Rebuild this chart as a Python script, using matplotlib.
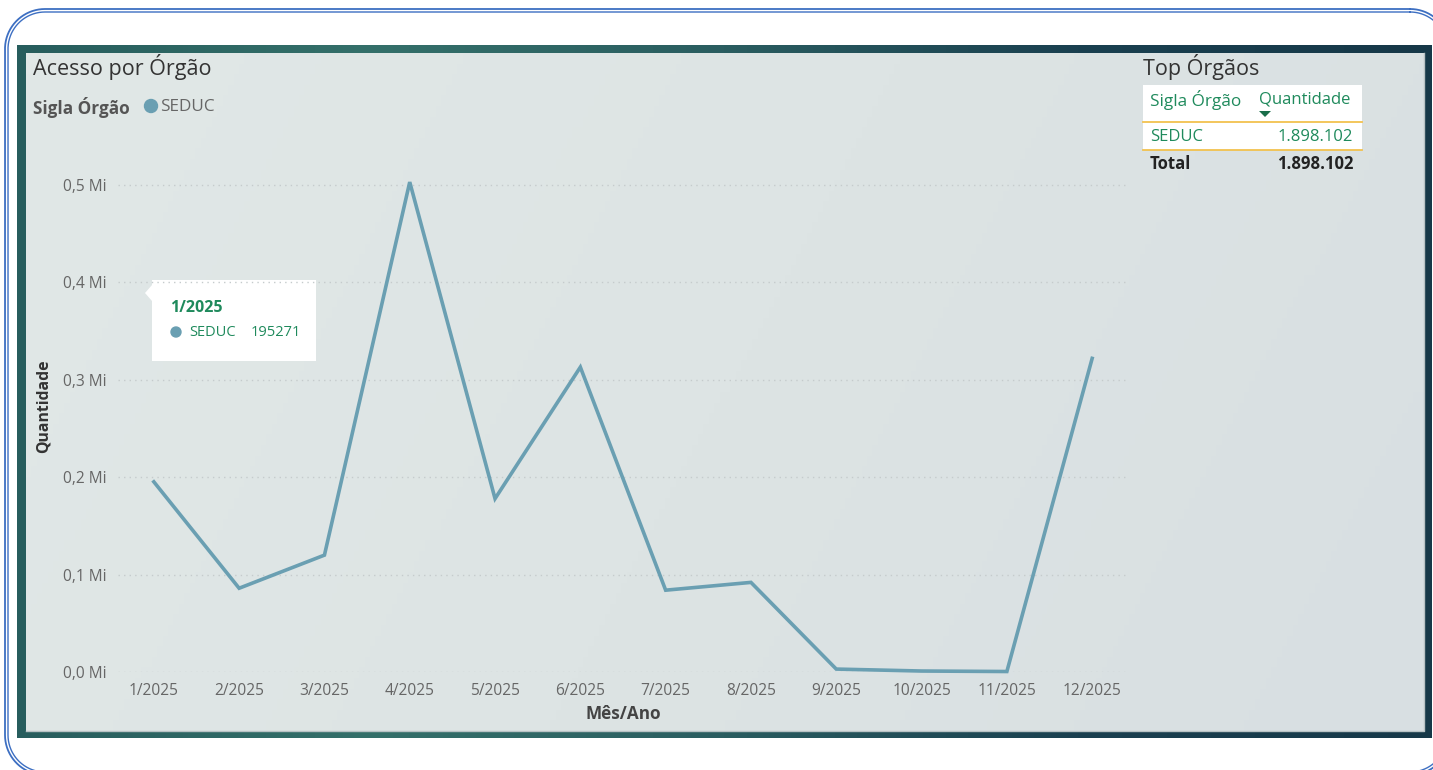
import numpy as np
import matplotlib
matplotlib.use("Agg")
import matplotlib.pyplot as plt
from matplotlib.patches import Rectangle, Polygon, Circle
from matplotlib.colors import LinearSegmentedColormap

# ---------------- data ----------------
months = ["1/2025", "2/2025", "3/2025", "4/2025", "5/2025", "6/2025",
          "7/2025", "8/2025", "9/2025", "10/2025", "11/2025", "12/2025"]
seduc = [195271, 86000, 120000, 503000, 178000, 313000,
         84000, 92000, 3000, 1000, 500, 322000]
yticks = [0, 100000, 200000, 300000, 400000, 500000]
ytick_labels = ["0,0 Mi", "0,1 Mi", "0,2 Mi", "0,3 Mi", "0,4 Mi", "0,5 Mi"]
table_org = ["SEDUC"]
table_qty = ["1.898.102"]
table_total = "1.898.102"

W, H = 1433, 770
FONT = "Open Sans"
LINE_C = "#6a9fb2"
GREEN = "#1f8a5c"

fig = plt.figure(figsize=(W / 100, H / 100), dpi=100)
fig.patch.set_facecolor("white")

# background axes in pixel coordinates
bg = fig.add_axes([0, 0, 1, 1])
bg.set_autoscale_on(False)
bg.set_xlim(0, W)
bg.set_ylim(H, 0)
bg.axis("off")


def rounded_rect(xl, yt, xr, yb, r, n=40):
    pts = []
    corners = [((xr - r, yt + r), -90, 0), ((xr - r, yb - r), 0, 90),
               ((xl + r, yb - r), 90, 180), ((xl + r, yt + r), 180, 270)]
    for (cx, cy), a0, a1 in corners:
        a = np.radians(np.linspace(a0, a1, n))
        pts.append(np.column_stack([cx + r * np.cos(a), cy + r * np.sin(a)]))
    p = np.vstack(pts + [pts[0][:1]])
    return p[:, 0], p[:, 1]


# outer blue double rounded border (extends beyond the right and bottom edges)
for off, lw in [(0, 1.3), (3, 1.0)]:
    bx, by = rounded_rect(5 + off, 9 + off, 1450 - off, 775 - off, 40 - off)
    bg.plot(bx, by, color="#3d6fc2", lw=lw, zorder=0.5)

# dark gradient frame
frame_cmap = LinearSegmentedColormap.from_list(
    "frame", ["#275d5d", "#34706a", "#2a5d60", "#1a4050", "#163848"])
grad = np.linspace(0, 1, 256).reshape(1, -1)
bg.imshow(grad, cmap=frame_cmap, extent=(17, 1432, 738, 45), aspect="auto", zorder=1)

# light inner panel
inner_cmap = LinearSegmentedColormap.from_list("inner", ["#e1e8e7", "#dde4e4", "#d8dfe2"])
grad2 = (np.linspace(0, 1, 256)[None, :] * 0.8 + np.linspace(0, 1, 64)[:, None] * 0.2)
bg.imshow(grad2, cmap=inner_cmap, extent=(26, 1424, 731, 53), aspect="auto", zorder=2)
bg.plot([26, 1424, 1424], [730.5, 730.5, 53], color="#b8c2c4", lw=1.0, zorder=3)

# title and legend
bg.text(33, 67, "Acesso por Órgão", fontsize=15.5, color="#333333",
        family=FONT, va="center", ha="left", zorder=5)
bg.text(33, 107, "Sigla Órgão", fontsize=12.3, color="#555555", fontweight="bold",
        family=FONT, va="center", ha="left", zorder=5)
bg.add_patch(Circle((151, 106), 6.5, color=LINE_C, zorder=5))
bg.text(160, 107, "SEDUC", fontsize=12.3, color="#666666",
        family=FONT, va="center", ha="left", zorder=5)

# axis titles
bg.text(44, 406, "Quantidade", fontsize=11.3, color="#333333", fontweight="bold",
        family=FONT, va="center", ha="center", rotation=90, zorder=5)
bg.text(623, 714, "Mês/Ano", fontsize=12.3, color="#444444", fontweight="bold",
        family=FONT, va="center", ha="center", zorder=5)

# ---------------- chart axes ----------------
x0, x1 = 118, 1128
y_zero, y_half = 672, 185
px_per_unit = (y_zero - y_half) / 500000
ytop = 535000
top_px = y_zero - ytop * px_per_unit
ax = fig.add_axes([x0 / W, (H - y_zero) / H, (x1 - x0) / W, (y_zero - top_px) / H])
ax.patch.set_alpha(0)
xs = np.arange(len(months))
ax.set_xlim(-0.42, len(months) - 1 + 0.42)
ax.set_ylim(0, ytop)
for yt in yticks:
    ax.axhline(yt, color="#c5cbcc", lw=1.0, ls=(0, (1, 3)), zorder=1)
ax.plot(xs, seduc, color=LINE_C, lw=2.6, solid_joinstyle="miter", zorder=3, clip_on=False)
ax.set_yticks(yticks)
ax.set_yticklabels(ytick_labels)
ax.set_xticks(xs)
ax.set_xticklabels(months)
ax.tick_params(axis="both", length=0, labelsize=11.2, labelcolor="#666666")
ax.tick_params(axis="y", pad=8)
ax.tick_params(axis="x", pad=8)
for lab in ax.get_xticklabels() + ax.get_yticklabels():
    lab.set_family(FONT)
for s in ax.spines.values():
    s.set_visible(False)

# tooltip
bg.add_patch(Rectangle((152, 280), 164, 81, fc="white", ec="none", zorder=6))
bg.add_patch(Polygon([(152, 285), (145, 293), (152, 301)], closed=True,
                     fc="white", ec="none", zorder=6))
bg.text(170, 308, months[0], fontsize=11.5, color=GREEN, fontweight="bold",
        family=FONT, va="center", ha="left", zorder=7)
bg.add_patch(Circle((176, 332), 5, color=LINE_C, zorder=7))
bg.text(189, 333, "SEDUC", fontsize=10.5, color=GREEN,
        family=FONT, va="center", ha="left", zorder=7)
bg.text(251, 333, str(seduc[0]), fontsize=10.5, color=GREEN,
        family=FONT, va="center", ha="left", zorder=7)

# table
bg.text(1143, 67, "Top Órgãos", fontsize=15.5, color="#333333",
        family=FONT, va="center", ha="left", zorder=5)
bg.add_patch(Rectangle((1143, 85), 219, 65, fc="white", ec="none", zorder=4))
bg.text(1150, 100, "Sigla Órgão", fontsize=12.3, color=GREEN,
        family=FONT, va="center", ha="left", zorder=5)
bg.text(1259, 100, "Quantidade", fontsize=12.0, color=GREEN,
        family=FONT, va="center", ha="left", zorder=5)
bg.add_patch(Polygon([(1259, 111), (1271, 111), (1265, 117)], closed=True,
                     fc="#1a6e4a", ec="none", zorder=5))
bg.plot([1143, 1362], [122, 122], color="#f2c14e", lw=1.3, zorder=5)
for i, (org, q) in enumerate(zip(table_org, table_qty)):
    yy = 137 + 27 * i
    bg.text(1150, yy, org, fontsize=12.0, color=GREEN,
            family=FONT, va="center", ha="left", zorder=5)
    bg.text(1353, yy, q, fontsize=12.0, color=GREEN,
            family=FONT, va="center", ha="right", zorder=5)
bg.plot([1143, 1362], [149.5, 149.5], color="#f2c14e", lw=1.3, zorder=5)
bg.text(1150, 164, "Total", fontsize=12.0, color="#222222", fontweight="bold",
        family=FONT, va="center", ha="left", zorder=5)
bg.text(1353, 164, table_total, fontsize=12.0, color="#222222", fontweight="bold",
        family=FONT, va="center", ha="right", zorder=5)

bg.set_xlim(0, W)
bg.set_ylim(H, 0)

fig.savefig("out.png", dpi=100, facecolor="white")
